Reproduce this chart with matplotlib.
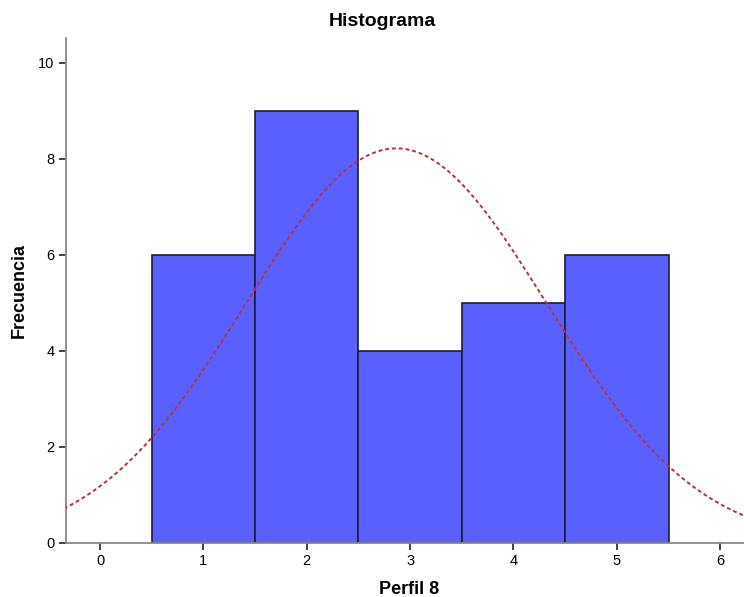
import numpy as np
import matplotlib
matplotlib.use("Agg")
import matplotlib.pyplot as plt

# frecuencias de Perfil 8
valores = [1, 2, 3, 4, 5]
frecuencias = [6, 9, 4, 5, 6]

plt.rcParams['font.family'] = ['Liberation Sans', 'DejaVu Sans']

fig = plt.figure(figsize=(7.44, 5.97), dpi=100)
ax = fig.add_axes([65.7 / 744, 54 / 597, 1 - 65.7 / 744, (543 - 38) / 597])

ax.bar(valores, frecuencias, width=1.0, color='#5A5FFF', edgecolor='#1C1C3A', linewidth=1.2, zorder=2)

# curva normal con la media y desviacion tipica de los datos
x_obs = np.repeat(valores, frecuencias)
n = len(x_obs)
media = x_obs.mean()
sd = x_obs.std(ddof=1)
xs = np.linspace(-0.35, 6.25, 400)
ys = n * 1.0 / (sd * np.sqrt(2 * np.pi)) * np.exp(-0.5 * ((xs - media) / sd) ** 2)
ax.plot(xs, ys, color='#B5333A', linestyle=(0, (2, 1.5)), linewidth=1.4, zorder=3)

ax.set_xlim(-0.332, 6.23)
ax.set_ylim(0, 10.52)
ax.set_xticks(range(0, 7))
ax.set_yticks(range(0, 11, 2))
ax.tick_params(direction='out', length=5, width=1.2, color='#222222', labelsize=10.5, pad=3)

for s in ['top', 'right']:
    ax.spines[s].set_visible(False)
for s in ['left', 'bottom']:
    ax.spines[s].set_color('#888888')
    ax.spines[s].set_linewidth(1.3)

fig.text(382 / 744, 1 - 21 / 597, 'Histograma', ha='center', va='center', fontsize=14, fontweight='bold')
fig.text(409 / 744, 1 - 589 / 597, 'Perfil 8', ha='center', va='center', fontsize=13, fontweight='bold')
fig.text(19 / 744, 1 - 290 / 597, 'Frecuencia', ha='center', va='center', rotation=90, fontsize=13, fontweight='bold')

fig.savefig('out.png', dpi=100)
